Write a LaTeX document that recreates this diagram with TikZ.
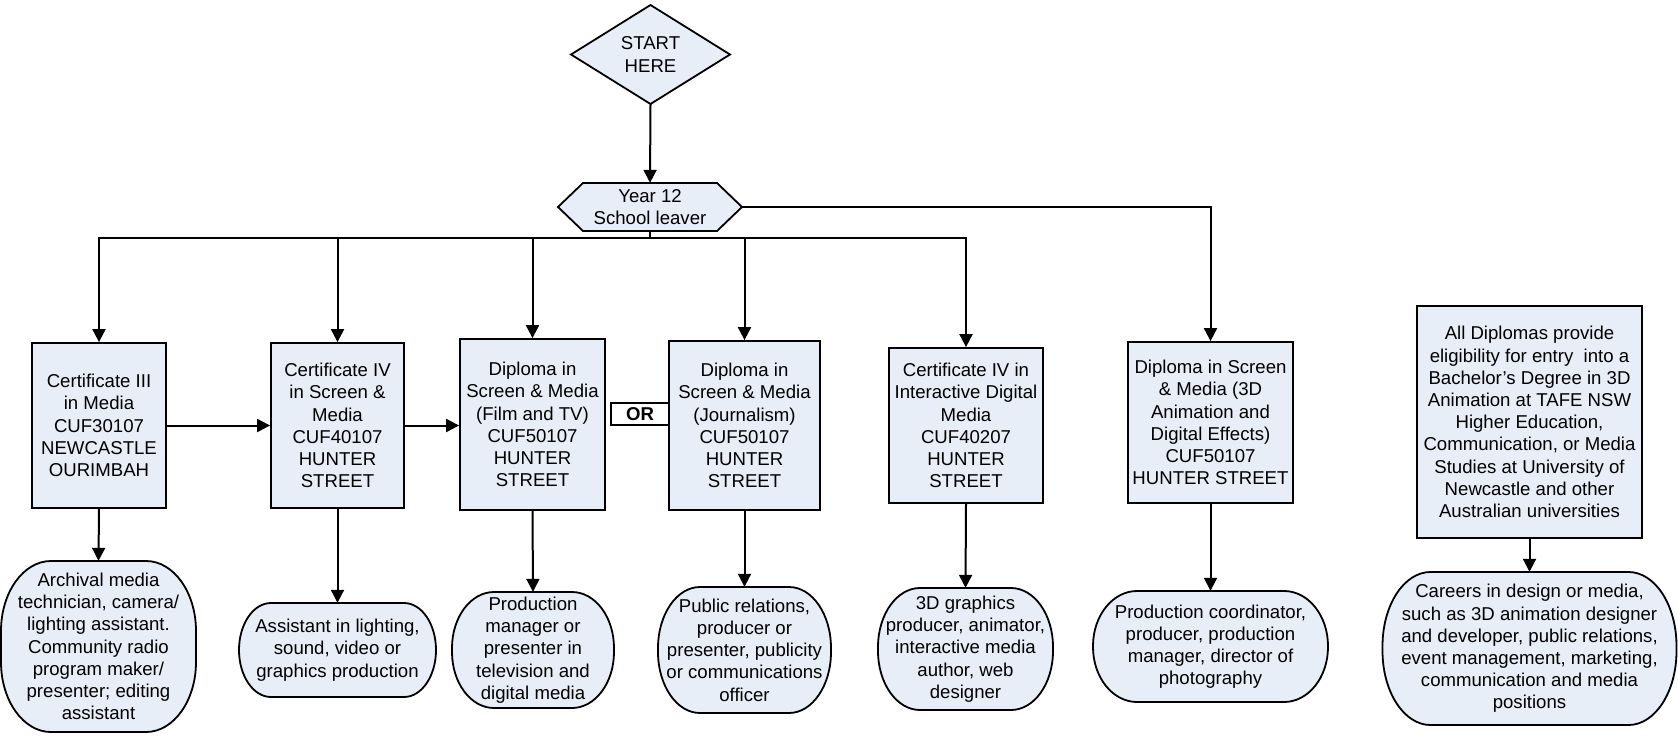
\documentclass[tikz,border=0pt]{standalone}
\usepackage{fontspec}
\setmainfont{Liberation Sans}
\usetikzlibrary{arrows.meta}
\definecolor{boxfill}{RGB}{232,238,247}
\tikzset{
  txt/.style={align=center, inner sep=0pt, font=\fontsize{18.6}{22.2}\selectfont},
  boxnode/.style={txt, draw=black, fill=boxfill, line width=1.8pt},
  shapeline/.style={draw=black, fill=boxfill, line width=1.8pt},
  conn/.style={line width=2pt},
  arr/.style={conn, -{Triangle[width=13pt,length=13pt]}},
}
\newcommand{\ovalnode}[8]{% name, cx, cy, w, h, rx, ry, text
  \path[shapeline] ({#2-#4/2+#6},{-#3+#5/2}) -- ({#2+#4/2-#6},{-#3+#5/2})
    arc[start angle=90,end angle=0,x radius=#6,y radius=#7]
    -- ({#2+#4/2},{-#3-#5/2+#7})
    arc[start angle=0,end angle=-90,x radius=#6,y radius=#7]
    -- ({#2-#4/2+#6},{-#3-#5/2})
    arc[start angle=270,end angle=180,x radius=#6,y radius=#7]
    -- ({#2-#4/2},{-#3+#5/2-#7})
    arc[start angle=180,end angle=90,x radius=#6,y radius=#7] -- cycle;
  \node[txt, minimum width=#4, minimum height=#5] (#1) at (#2,-#3) {#8};
}
\begin{document}
\begin{tikzpicture}[x=1pt,y=1pt]
\useasboundingbox (0,0) rectangle (1678,-736);

% start diamond
\path[shapeline] (650.5,-5) -- (730,-54.5) -- (650.5,-104) -- (571,-54.5) -- cycle;
\node[txt, minimum width=159, minimum height=99] (start) at (650.5,-54.5) {START\\HERE};

% year 12 hexagon
\path[shapeline] (558,-207) -- (583,-183) -- (717,-183) -- (742,-207) -- (717,-231) -- (583,-231) -- cycle;
\node[txt, minimum width=184, minimum height=48] (y12) at (650,-207) {Year 12\\School leaver};

% course boxes
\node[boxnode, minimum width=134, minimum height=165] (b1) at (99,-425.5) {Certificate III\\in Media\\CUF30107\\NEWCASTLE\\OURIMBAH};
\node[boxnode, minimum width=133, minimum height=165] (b2) at (337.5,-425.5) {Certificate IV\\in Screen \&\\Media\\CUF40107\\HUNTER\\STREET};
\node[boxnode, minimum width=145, minimum height=171] (b3) at (532.5,-424.5) {Diploma in\\Screen \& Media\\(Film and TV)\\CUF50107\\HUNTER\\STREET};
\node[boxnode, minimum width=151, minimum height=169] (b4) at (744.5,-425.5) {Diploma in\\Screen \& Media\\(Journalism)\\CUF50107\\HUNTER\\STREET};
\node[boxnode, minimum width=154, minimum height=155] (b5) at (966,-425.5) {Certificate IV in\\Interactive Digital\\Media\\CUF40207\\HUNTER\\STREET};
\node[boxnode, minimum width=165, minimum height=161] (b6) at (1210.5,-422.5) {Diploma in Screen\\\& Media (3D\\Animation and\\Digital Effects)\\CUF50107\\HUNTER STREET};
\node[boxnode, minimum width=225, minimum height=232] (b7) at (1529.5,-422) {All Diplomas provide\\eligibility for entry\ \ into a\\Bachelor’s Degree in 3D\\Animation at TAFE NSW\\Higher Education,\\Communication, or Media\\Studies at University of\\Newcastle and other\\Australian universities};

% OR label
\node[txt, draw=black, fill=white, line width=1.8pt, minimum width=58, minimum height=22, font=\fontsize{18.6}{22.2}\selectfont\bfseries] (or) at (640,-414) {OR};

% career ovals
\ovalnode{o1}{98.5}{646.5}{195}{171}{50}{70}{Archival media\\technician, camera/\\lighting assistant.\\Community radio\\program maker/\\presenter; editing\\assistant}
\ovalnode{o2}{337.5}{650}{197}{94}{32}{47}{Assistant in lighting,\\sound, video or\\graphics production}
\ovalnode{o3}{533}{650}{162}{116}{42}{56}{Production\\manager or\\presenter in\\television and\\digital media}
\ovalnode{o4}{744.5}{650}{173}{126}{42}{61}{Public relations,\\producer or\\presenter, publicity\\or communications\\officer}
\ovalnode{o5}{965.5}{649}{175}{122}{42}{59}{3D graphics\\producer, animator,\\interactive media\\author, web\\designer}
\ovalnode{o6}{1210.5}{646.5}{235}{111}{44}{55}{Production coordinator,\\producer, production\\manager, director of\\photography}
\ovalnode{o7}{1529.5}{648.5}{294}{153}{48}{74}{Careers in design or media,\\such as 3D animation designer\\and developer, public relations,\\event management, marketing,\\communication and media\\positions}

% connectors
\draw[arr] (start.south) -- (y12.north);
\coordinate (bus) at (650,-238);
\draw[conn] (y12.south) -- (bus);
\draw[arr] (bus) -| (b1.north);
\draw[arr] (bus) -| (b2.north);
\draw[arr] (bus) -| (b3.north);
\draw[arr] (bus) -| (b4.north);
\draw[arr] (bus) -| (b5.north);
\draw[arr] (y12.east) -| (b6.north);

\draw[arr] (b1.east) -- (b2.west);
\draw[arr] (b2.east) -- (b2.east -| b3.west);

\draw[arr] (b1.south) -- (o1.north);
\draw[arr] (b2.south) -- (o2.north);
\draw[arr] (b3.south) -- (o3.north);
\draw[arr] (b4.south) -- (o4.north);
\draw[arr] (b5.south) -- (o5.north);
\draw[arr] (b6.south) -- (o6.north);
\draw[arr] (b7.south) -- (o7.north);
\end{tikzpicture}
\end{document}
